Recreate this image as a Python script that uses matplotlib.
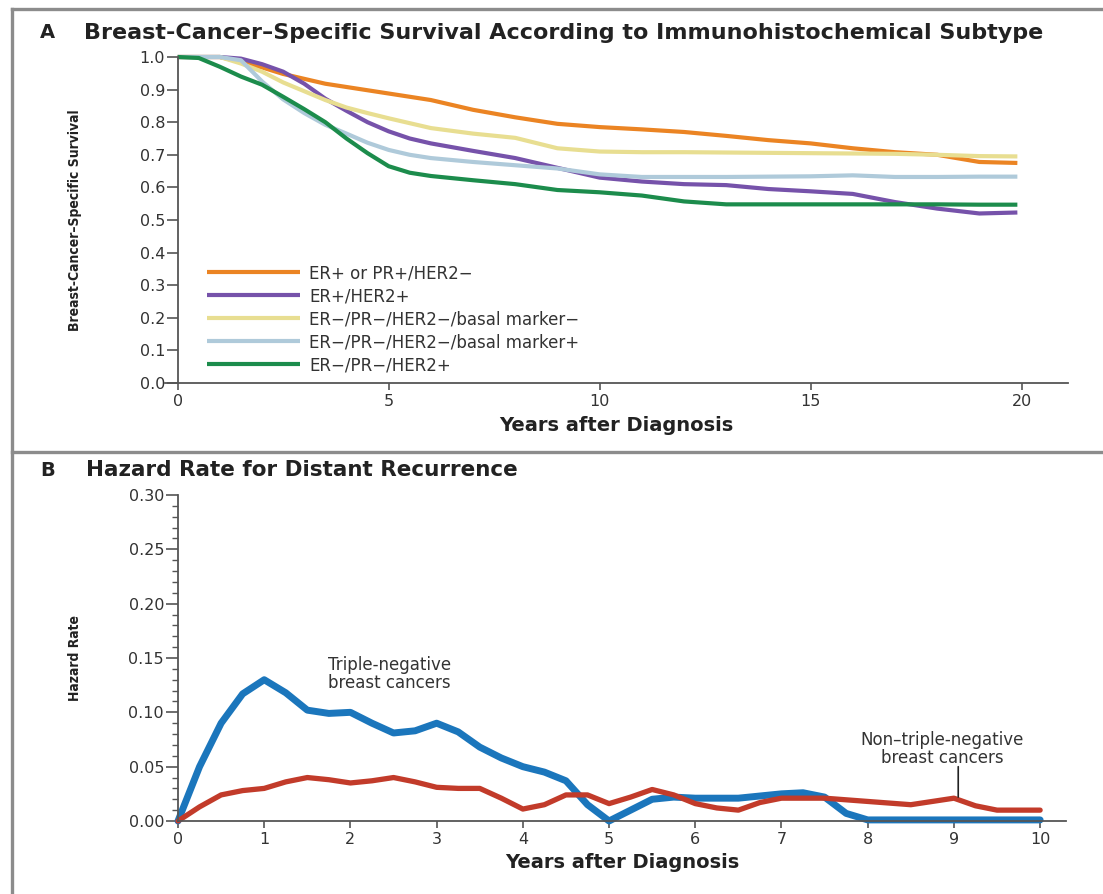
import matplotlib
matplotlib.use("Agg")
import matplotlib.pyplot as plt
from matplotlib.lines import Line2D

# ---------------- data: panel A (Kaplan-Meier style survival) ----------------
years_A = [0, 0.5, 1.0, 1.5, 2.0, 2.5, 3.0, 3.5, 4.0, 4.5, 5.0, 5.5, 6.0, 7.0, 8.0,
           9.0, 10, 11, 12, 13, 14, 15, 16, 17, 18, 19, 19.9]
surv_er_or_pr_pos = [1.0, 1.0, 1.0, 0.985, 0.968, 0.948, 0.933, 0.918, 0.908, 0.898, 0.888,
                     0.878, 0.868, 0.838, 0.815, 0.795, 0.785, 0.778, 0.770, 0.758, 0.745,
                     0.735, 0.720, 0.708, 0.700, 0.678, 0.675]
surv_er_her2_pos = [1.0, 1.0, 1.0, 0.995, 0.978, 0.955, 0.918, 0.872, 0.835, 0.800, 0.772,
                    0.750, 0.735, 0.712, 0.690, 0.660, 0.630, 0.618, 0.610, 0.607, 0.595,
                    0.588, 0.580, 0.555, 0.535, 0.520, 0.523]
surv_tn_basal_neg = [1.0, 1.0, 1.0, 0.980, 0.955, 0.922, 0.895, 0.868, 0.845, 0.828, 0.812,
                     0.797, 0.782, 0.765, 0.752, 0.720, 0.710, 0.708, 0.708, 0.707, 0.706,
                     0.705, 0.704, 0.703, 0.700, 0.696, 0.695]
surv_tn_basal_pos = [1.0, 1.0, 1.0, 0.990, 0.925, 0.870, 0.828, 0.792, 0.765, 0.737, 0.715,
                     0.700, 0.690, 0.678, 0.668, 0.658, 0.640, 0.632, 0.632, 0.632, 0.633,
                     0.634, 0.637, 0.632, 0.632, 0.633, 0.633]
surv_her2_pos = [1.0, 0.997, 0.970, 0.940, 0.915, 0.878, 0.840, 0.800, 0.750, 0.705, 0.665,
                 0.645, 0.635, 0.622, 0.610, 0.592, 0.585, 0.575, 0.557, 0.548, 0.548,
                 0.548, 0.548, 0.548, 0.548, 0.547, 0.547]
labels_A = ["ER+ or PR+/HER2\u2212", "ER+/HER2+", "ER\u2212/PR\u2212/HER2\u2212/basal marker\u2212",
            "ER\u2212/PR\u2212/HER2\u2212/basal marker+", "ER\u2212/PR\u2212/HER2+"]
colors_A = ["#EB8423", "#7652AA", "#E8DE91", "#AFCADA", "#1C8C4C"]
yticks_A = [0.0, 0.1, 0.2, 0.3, 0.4, 0.5, 0.6, 0.7, 0.8, 0.9, 1.0]
xticks_A = [0, 5, 10, 15, 20]

# ---------------- data: panel B (hazard rate) ----------------
years_B_tn = [0, 0.25, 0.5, 0.75, 1.0, 1.25, 1.5, 1.75, 2.0, 2.25, 2.5, 2.75, 3.0, 3.25,
              3.5, 3.75, 4.0, 4.25, 4.5, 4.75, 5.0, 5.25, 5.5, 5.75, 6.0, 6.5, 7.0, 7.25,
              7.5, 7.75, 8.0, 8.5, 9.0, 9.5, 10.0]
hazard_tn = [0.0, 0.050, 0.090, 0.117, 0.130, 0.118, 0.102, 0.099, 0.100, 0.090, 0.081,
             0.083, 0.090, 0.082, 0.068, 0.058, 0.050, 0.045, 0.037, 0.015, 0.0, 0.010,
             0.020, 0.022, 0.021, 0.021, 0.025, 0.026, 0.022, 0.007, 0.001, 0.001, 0.001,
             0.001, 0.001]
years_B_ntn = [0, 0.25, 0.5, 0.75, 1.0, 1.25, 1.5, 1.75, 2.0, 2.25, 2.5, 2.75, 3.0, 3.25,
               3.5, 3.75, 4.0, 4.25, 4.5, 4.75, 5.0, 5.25, 5.5, 5.75, 6.0, 6.25, 6.5, 6.75,
               7.0, 7.5, 8.0, 8.5, 9.0, 9.25, 9.5, 10.0]
hazard_ntn = [0.0, 0.013, 0.024, 0.028, 0.030, 0.036, 0.040, 0.038, 0.035, 0.037, 0.040,
              0.036, 0.031, 0.030, 0.030, 0.021, 0.011, 0.015, 0.024, 0.024, 0.016, 0.022,
              0.029, 0.024, 0.016, 0.012, 0.010, 0.017, 0.021, 0.021, 0.018, 0.015, 0.021,
              0.014, 0.010, 0.010]
yticks_B = [0.00, 0.05, 0.10, 0.15, 0.20, 0.25, 0.30]
xticks_B = list(range(0, 11))

W, H = 1103, 894
fig = plt.figure(figsize=(W / 100, H / 100), dpi=100)
fig.patch.set_facecolor("white")

TXT = "#333333"
SP = "#555555"
TICKFONT = dict(family="DejaVu Sans", size=11.5, color=TXT)
COND = dict(family="DejaVu Sans", fontstretch="condensed")

def px_ax(left, right, bottom_py, top_py):
    return [left / W, 1 - bottom_py / H, (right - left) / W, (bottom_py - top_py) / H]

# frame lines
for seg in [([12, 12], [0, H - 9]), ([12, W], [H - 9, H - 9]), ([12, W], [H - 452, H - 452])]:
    fig.add_artist(Line2D([x / W for x in seg[0]], [y / H for y in seg[1]],
                          color="#8c8c8c", lw=2.4, transform=fig.transFigure))

# ---------------- Panel A ----------------
axA = fig.add_axes(px_ax(165, 1068, 383, 57))
for yv, c, lab in zip([surv_er_or_pr_pos, surv_er_her2_pos, surv_tn_basal_neg,
                       surv_tn_basal_pos, surv_her2_pos], colors_A, labels_A):
    axA.plot(years_A, yv, color=c, lw=3.0, label=lab, clip_on=False,
             solid_capstyle="butt")
axA.set_xlim(-0.3, 21.1)
axA.set_ylim(0, 1.0)
axA.spines["left"].set_position(("data", 0))
axA.spines["left"].set_bounds(0, 1.0)
for s in ["top", "right"]:
    axA.spines[s].set_visible(False)
for s in ["left", "bottom"]:
    axA.spines[s].set_color(SP)
    axA.spines[s].set_linewidth(1.3)
axA.set_yticks(yticks_A)
axA.set_yticklabels([f"{v:.1f}" for v in yticks_A], **TICKFONT)
axA.set_xticks(xticks_A)
axA.set_xticklabels([str(v) for v in xticks_A], **TICKFONT)
axA.tick_params(axis="y", direction="out", length=8, width=1.2, color=SP, pad=1)
axA.tick_params(axis="x", direction="out", length=5, width=1.2, color=SP, pad=3)
axA.set_xlabel("Years after Diagnosis", fontsize=14, fontweight="bold", color="#222222",
               family="DejaVu Sans", labelpad=5)
axA.set_ylabel("Breast-Cancer\u2013Specific Survival", fontsize=10, color="#222222",
               fontweight="bold", **COND)
axA.yaxis.label.set_va("center")
axA.yaxis.set_label_coords((75 - 165) / (1068 - 165), 0.5)
leg = axA.legend(loc="upper left", bbox_to_anchor=(0.037, 0.39), frameon=False,
                 handlelength=5.6, handletextpad=0.55, labelspacing=0.3, borderpad=0,
                 prop=dict(family="DejaVu Sans", size=12))
for t in leg.get_texts():
    t.set_color(TXT)

fig.text(40 / W, 1 - 33 / H, "A", fontsize=14, fontweight="bold", color="#222222",
         va="center", ha="left", family="DejaVu Sans")
fig.text(84 / W, 1 - 33 / H, "Breast-Cancer\u2013Specific Survival According to Immunohistochemical Subtype",
         fontsize=16, fontweight="bold", color="#222222", va="center", ha="left",
         family="DejaVu Sans")

# ---------------- Panel B ----------------
axB = fig.add_axes(px_ax(178, 1066, 821, 495))
axB.plot(years_B_tn, hazard_tn, color="#1B76BC", lw=5.0, clip_on=False,
         solid_joinstyle="round", solid_capstyle="round")
axB.plot(years_B_ntn, hazard_ntn, color="#C23B2A", lw=3.8, clip_on=False,
         solid_joinstyle="round", solid_capstyle="round")
axB.set_xlim(0, 10.3)
axB.set_ylim(0, 0.30)
for s in ["top", "right"]:
    axB.spines[s].set_visible(False)
for s in ["left", "bottom"]:
    axB.spines[s].set_color(SP)
    axB.spines[s].set_linewidth(1.3)
axB.set_yticks(yticks_B)
axB.set_yticklabels([f"{v:.2f}" for v in yticks_B], **TICKFONT)
axB.set_yticks([i / 100 for i in range(31)], minor=True)
axB.set_xticks(xticks_B)
axB.set_xticklabels([str(v) for v in xticks_B], **TICKFONT)
axB.tick_params(axis="y", which="major", direction="out", length=9, width=1.2, color=SP, pad=1)
axB.tick_params(axis="y", which="minor", direction="out", length=4, width=1.0, color=SP)
axB.tick_params(axis="x", direction="out", length=5, width=1.2, color=SP, pad=3)
axB.set_xlabel("Years after Diagnosis", fontsize=14, fontweight="bold", color="#222222",
               family="DejaVu Sans", labelpad=4)
axB.set_ylabel("Hazard Rate", fontsize=10, color="#222222", fontweight="bold", **COND)
axB.yaxis.label.set_va("center")
axB.yaxis.set_label_coords((75 - 178) / (1066 - 178), 0.5)

axB.text(2.45, 0.135, "Triple-negative\nbreast cancers", ha="center", va="center",
         fontsize=12, color=TXT, family="DejaVu Sans", linespacing=1.0)
axB.text(8.86, 0.066, "Non\u2013triple-negative\nbreast cancers", ha="center", va="center",
         fontsize=12, color=TXT, family="DejaVu Sans", linespacing=1.0)
axB.annotate("", xy=(9.05, 0.022), xytext=(9.05, 0.050),
             arrowprops=dict(arrowstyle="-", color="#222222", lw=1.2, shrinkA=0, shrinkB=0))

fig.text(40 / W, 1 - 470 / H, "B", fontsize=14, fontweight="bold", color="#222222",
         va="center", ha="left", family="DejaVu Sans")
fig.text(86 / W, 1 - 470 / H, "Hazard Rate for Distant Recurrence", fontsize=15.5,
         fontweight="bold", color="#222222", va="center", ha="left", family="DejaVu Sans")

fig.savefig("out.png", dpi=100, facecolor="white")
